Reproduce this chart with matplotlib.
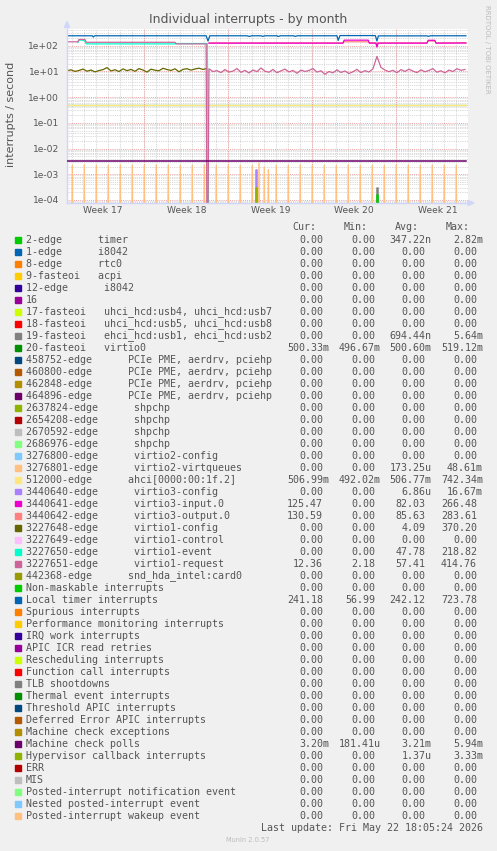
import numpy as np
import matplotlib.pyplot as plt
from matplotlib.patches import Rectangle, Polygon

# ---- legend table -------------------------------------------------------
labels = [
    "2-edge      timer",
    "1-edge      i8042",
    "8-edge      rtc0",
    "9-fasteoi   acpi",
    "12-edge      i8042",
    "16",
    "17-fasteoi   uhci_hcd:usb4, uhci_hcd:usb7",
    "18-fasteoi   uhci_hcd:usb5, uhci_hcd:usb8",
    "19-fasteoi   ehci_hcd:usb1, ehci_hcd:usb2",
    "20-fasteoi   virtio0",
    "458752-edge      PCIe PME, aerdrv, pciehp",
    "460800-edge      PCIe PME, aerdrv, pciehp",
    "462848-edge      PCIe PME, aerdrv, pciehp",
    "464896-edge      PCIe PME, aerdrv, pciehp",
    "2637824-edge      shpchp",
    "2654208-edge      shpchp",
    "2670592-edge      shpchp",
    "2686976-edge      shpchp",
    "3276800-edge      virtio2-config",
    "3276801-edge      virtio2-virtqueues",
    "512000-edge      ahci[0000:00:1f.2]",
    "3440640-edge      virtio3-config",
    "3440641-edge      virtio3-input.0",
    "3440642-edge      virtio3-output.0",
    "3227648-edge      virtio1-config",
    "3227649-edge      virtio1-control",
    "3227650-edge      virtio1-event",
    "3227651-edge      virtio1-request",
    "442368-edge      snd_hda_intel:card0",
    "Non-maskable interrupts",
    "Local timer interrupts",
    "Spurious interrupts",
    "Performance monitoring interrupts",
    "IRQ work interrupts",
    "APIC ICR read retries",
    "Rescheduling interrupts",
    "Function call interrupts",
    "TLB shootdowns",
    "Thermal event interrupts",
    "Threshold APIC interrupts",
    "Deferred Error APIC interrupts",
    "Machine check exceptions",
    "Machine check polls",
    "Hypervisor callback interrupts",
    "ERR",
    "MIS",
    "Posted-interrupt notification event",
    "Nested posted-interrupt event",
    "Posted-interrupt wakeup event",
]

palette = ['#00CC00', '#0066B3', '#FF8000', '#FFCC00', '#330099', '#990099',
           '#CCFF00', '#FF0000', '#808080', '#008F00', '#00487D', '#B35A00',
           '#B38F00', '#6B006B', '#8FB300', '#B30000', '#BEBEBE', '#80FF80',
           '#80C9FF', '#FFC080', '#FFE680', '#AA80FF', '#EE00CC', '#FF8080',
           '#666600', '#FFBFFF', '#00FFCC', '#CC6699', '#999900']

z = '0.00'
cur = [z]*9 + ['500.33m'] + [z]*10 + ['506.99m', z, '125.47', '130.59', z, z, z, '12.36', z,
       z, '241.18'] + [z]*11 + ['3.20m', z] + [z]*5
mins = [z]*9 + ['496.67m'] + [z]*10 + ['492.02m', z, z, z, z, z, z, '2.18', z,
        z, '56.99'] + [z]*11 + ['181.41u', z] + [z]*5
avgs = ['347.22n'] + [z]*7 + ['694.44n', '500.60m'] + [z]*9 + ['173.25u', '506.77m', '6.86u',
        '82.03', '85.63', '4.09', z, '47.78', '57.41', z, z, '242.12'] + [z]*11 + ['3.21m', '1.37u'] + [z]*5
maxs = ['2.82m'] + [z]*7 + ['5.64m', '519.12m'] + [z]*9 + ['48.61m', '742.34m', '16.67m',
        '266.48', '283.61', '370.20', z, '218.82', '414.76', z, z, '723.78'] + [z]*11 + ['5.94m', '3.33m'] + [z]*5

# ---- series (x in days from left edge of graph) --------------------------
week_labels = ['Week 17', 'Week 18', 'Week 19', 'Week 20', 'Week 21']
week_mid_days = [2.94, 9.94, 16.94, 23.94, 30.94]
week_start_days = [6.44, 13.44, 20.44, 27.44]

timer_days = [0, 2.1, 2.2, 2.3, 11.6, 11.75, 11.9, 15.0, 15.2, 15.4, 16.2, 16.3, 16.5,
              17.5, 17.6, 17.8, 18.9, 19.0, 19.2, 22.5, 22.6, 22.75, 25.7, 25.83, 25.95,
              30.0, 30.1, 30.3, 33.25]
timer_vals = [240, 240, 215, 240, 240, 150, 240, 240, 226, 240, 240, 227, 240,
              240, 225, 240, 240, 226, 240, 240, 158, 244, 244, 150, 238,
              238, 228, 240, 240]

virtio0_days = [0, 33.25]
virtio0_vals = [0.5, 0.5]
ahci_days = [0, 33.25]
ahci_vals = [0.507, 0.507]

mce_days = [0, 33.25]
mce_vals = [3.2e-3, 3.2e-3]
mce_bump_days = [0.06, 0.72, 1.38, 2.04, 2.70, 3.36, 4.02, 4.68, 5.34, 6.00, 6.66, 7.32,
                 7.98, 8.64, 9.30, 9.96, 10.62, 11.28, 11.94, 12.60, 13.26, 13.92, 14.58,
                 15.24, 15.90, 16.56, 17.22, 17.88, 18.54, 19.20, 19.86, 20.52, 21.18,
                 21.84, 22.50, 23.16, 23.82, 24.48, 25.14, 25.80, 26.46, 27.12, 27.78,
                 28.44, 29.10, 29.76, 30.42, 31.08, 31.74, 32.40, 33.06]
mce_bump_vals = [3.4e-3] * 51

# virtio1-config, one value every 8 hours until the switch
virtio1_config = [10.6, 11.4, 9.9, 10.8, 12.2, 10.1, 11.2, 9.5, 10.7, 11.6, 13.9, 10.3,
                  11.5, 9.8, 12.4, 10.6, 11.8, 10.0, 12.7, 11.2, 9.3, 12.1, 11.0, 10.5,
                  13.1, 11.7, 10.8, 12.5, 9.6, 11.9, 12.6, 11.1, 12.3, 13.2, 11.8, 12.9]

event_days = [0.9, 1.0, 1.2, 1.5, 1.6, 9.0, 9.1, 11.7, 11.83]
event_vals = [130, 160, 165, 150, 116, 116, 120, 120, 1e-9]

request1_days = [0, 0.9, 1.0, 1.5, 1.6, 9.0, 9.1, 11.6, 11.69]
request1_vals = [140, 140, 172, 172, 134, 134, 116, 116, 1e-9]
# virtio1-request after the switch, one value every 8 hours
request2 = [12.5, 9.8, 10.6, 8.9, 11.7, 9.4, 10.2, 12.8, 9.1, 10.9,
            8.6, 11.3, 9.7, 13.4, 10.1, 9.2, 11.8, 8.8, 10.4, 12.2,
            9.5, 10.8, 8.4, 11.1, 9.9, 10.7, 12.9, 9.3, 10.5, 7.6,
            9.8, 8.7, 11.4, 9.0, 10.3, 8.2, 9.6, 11.9, 8.9, 10.6,
            9.4, 12.4, 38.0, 14.2, 11.2, 9.7, 10.9, 8.8, 11.6, 9.9,
            12.1, 10.2, 8.9, 11.4, 9.6, 10.8, 12.7, 9.2, 10.5, 8.7,
            11.2, 9.8, 12.6, 10.9, 11.8]

input_days = [11.83, 23.0, 23.1, 25.1, 25.2, 25.75, 25.83, 25.92, 30.0, 30.1, 30.65, 30.75, 33.25]
input_vals = [124, 124, 162, 162, 124, 124, 88, 124, 124, 160, 160, 124, 125]
output_days = [11.83, 23.0, 23.1, 25.1, 25.2, 25.75, 25.83, 25.92, 30.0, 30.1, 30.65, 30.75, 33.25]
output_vals = [127, 127, 140, 140, 128, 128, 90, 127, 127, 150, 150, 127, 130]

vq_days = [0.44, 1.44, 2.44, 3.44, 4.44, 5.44, 6.44, 7.44, 8.44, 9.44, 10.44, 11.44,
           12.44, 13.44, 14.44, 15.44, 16.0, 16.44, 16.78, 17.44, 18.44, 19.44, 20.44,
           21.44, 22.44, 23.44, 24.44, 25.44, 26.44, 27.44, 28.44, 29.44, 30.44, 31.44, 32.44]
vq_vals = [2.2e-3, 2.3e-3, 2.2e-3, 2.2e-3, 2.3e-3, 2.2e-3, 2.2e-3, 2.3e-3, 2.2e-3, 2.2e-3,
           2.2e-3, 2.3e-3, 2.2e-3, 2.2e-3, 2.2e-3, 2.2e-3, 2.8e-3, 1.9e-3, 1.5e-3, 2.2e-3,
           2.2e-3, 2.3e-3, 2.2e-3, 2.2e-3, 2.2e-3, 2.3e-3, 2.2e-3, 2.2e-3, 2.2e-3, 2.3e-3,
           2.2e-3, 2.2e-3, 2.2e-3, 2.3e-3, 2.2e-3]

blip_days = {'virtio3-config': 15.76, 'hypervisor': 15.76, 'ehci': 25.84, 'timer': 25.84}
blip_vals = {'virtio3-config': 1.4e-3, 'hypervisor': 3.0e-4, 'ehci': 2.9e-4, 'timer': 1.5e-4}

# ---- figure ---------------------------------------------------------------
W, H = 497, 851
fig = plt.figure(figsize=(W / 100, H / 100), dpi=100, facecolor='#F0F0F0')


def fx(px):
    return px / W


def fy(py):
    return 1 - py / H


ax = fig.add_axes([fx(67), fy(203), fx(468) - fx(67), fy(29) - fy(203)])
ax.set_facecolor('white')
ax.set_yscale('log')
ax.set_xlim(0, 33.42)
ax.set_ylim(7.64e-5, 440)

# grid
for k in range(-5, 3):
    for m in range(2, 10):
        ax.axhline(m * 10.0 ** k, color='#cccccc', lw=0.6, ls=(0, (1, 1.2)), zorder=0)
for d in np.arange(0.44, 33.42, 1.0):
    ax.axvline(d, color='#cccccc', lw=0.6, ls=(0, (1, 1.2)), zorder=0)
for k in range(-4, 3):
    ax.axhline(10.0 ** k, color='#f0a0a0', lw=0.7, ls=(0, (1, 1.2)), zorder=0.5)
for d in week_start_days:
    ax.axvline(d, color='#f0a0a0', lw=0.7, ls=(0, (1, 1.2)), zorder=0.5)

lw = 0.9
tiny = 1e-9


def blip(key, color):
    d = blip_days[key]
    v = blip_vals[key]
    ax.plot([d, d, d + 1 / 12, d + 1 / 12], [tiny, v, v, tiny], color=color, lw=1.1)


blip('ehci', '#808080')
blip('timer', '#00CC00')
ax.plot(virtio0_days, virtio0_vals, color='#008F00', lw=lw)
for d, v in zip(vq_days, vq_vals):
    ax.plot([d - 0.09, d, d + 0.09], [tiny, v, tiny], color='#FFC080', lw=1.0)
ax.plot(ahci_days, ahci_vals, color='#FFE680', lw=lw)
blip('virtio3-config', '#AA80FF')
ax.plot(output_days, output_vals, color='#FF8080', lw=lw)
ax.plot(input_days, input_vals, color='#EE00CC', lw=lw)
ax.plot(np.arange(len(virtio1_config)) / 3, virtio1_config, color='#666600', lw=lw)
ax.plot(event_days, event_vals, color='#00FFCC', lw=lw)
req_x = list(request1_days) + list(11.83 + np.arange(len(request2)) / 3)
req_y = list(request1_vals) + list(request2)
ax.plot(req_x, req_y, color='#CC6699', lw=lw)
ax.plot(timer_days, timer_vals, color='#0066B3', lw=lw)
ax.plot(mce_days, mce_vals, color='#6B006B', lw=1.1)
ax.scatter(mce_bump_days, mce_bump_vals, marker='s', s=1.2, color='#8a3a8a', lw=0, zorder=5)
blip('hypervisor', '#8FB300')

# axes
for s in ['top', 'right']:
    ax.spines[s].set_visible(False)
for s in ['left', 'bottom']:
    ax.spines[s].set_color('#CFD6F8')
    ax.spines[s].set_linewidth(1.0)
ax.set_yticks([10.0 ** k for k in range(-4, 3)])
ax.set_yticklabels(['1e-04', '1e-03', '1e-02', '1e-01', '1e+00', '1e+01', '1e+02'])
ax.yaxis.set_minor_locator(plt.NullLocator())
ax.set_xticks(week_mid_days)
ax.set_xticklabels(week_labels)
ax.tick_params(axis='both', length=0, labelsize=6.6, colors='#555555')
ax.tick_params(axis='y', pad=5.6)
ax.tick_params(axis='x', pad=2.5)

# arrows
fig.patches.append(Polygon([(fx(64.5), fy(27.5)), (fx(69.5), fy(27.5)), (fx(67), fy(21.5))],
                           closed=True, color='#CFD6F8', transform=fig.transFigure))
fig.patches.append(Polygon([(fx(468), fy(200.5)), (fx(468), fy(205.5)), (fx(474), fy(203))],
                           closed=True, color='#CFD6F8', transform=fig.transFigure))

fig.text(fx(248.5), fy(19.5), 'Individual interrupts - by month', ha='center', va='center',
         fontsize=9, color='#555555')
fig.text(fx(11), fy(114), 'interrupts / second', rotation=90, ha='center', va='center',
         fontsize=8, color='#555555')
fig.text(fx(487), fy(5), 'RRDTOOL / TOBI OETIKER', rotation=270, ha='center', va='top',
         fontsize=5, color='#bbbbbb')

# legend
mono = 'DejaVu Sans Mono'
fs = 7.2
tc = '#555555'
for hx, h in zip([316, 367.7, 418.7, 469.7], ['Cur:', 'Min:', 'Avg:', 'Max:']):
    fig.text(fx(hx), fy(227.3), h, ha='right', va='center', family=mono, fontsize=fs, color=tc)

col_right = [329, 381, 431.7, 483]
for i, lab in enumerate(labels):
    y = 239.7 + 12.0 * i
    fig.patches.append(Rectangle((fx(15), fy(y + 2.8)), 5.5 / W, 5.5 / H,
                                 color=palette[i % len(palette)], transform=fig.transFigure))
    fig.text(fx(26), fy(y), lab, ha='left', va='center', family=mono, fontsize=fs, color=tc)
    for cx, v in zip(col_right, [cur[i], mins[i], avgs[i], maxs[i]]):
        xr = cx if v[-1].isalpha() else cx - 6
        fig.text(fx(xr), fy(y), v, ha='right', va='center', family=mono, fontsize=fs, color=tc)

fig.text(fx(483), fy(827.7), 'Last update: Fri May 22 18:05:24 2026', ha='right', va='center',
         family=mono, fontsize=fs, color=tc)
fig.text(fx(248), fy(839.5), 'Munin 2.0.57', ha='center', va='center', fontsize=4.8,
         color='#bbbbbb')

fig.savefig('out.png', dpi=100, facecolor=fig.get_facecolor())
